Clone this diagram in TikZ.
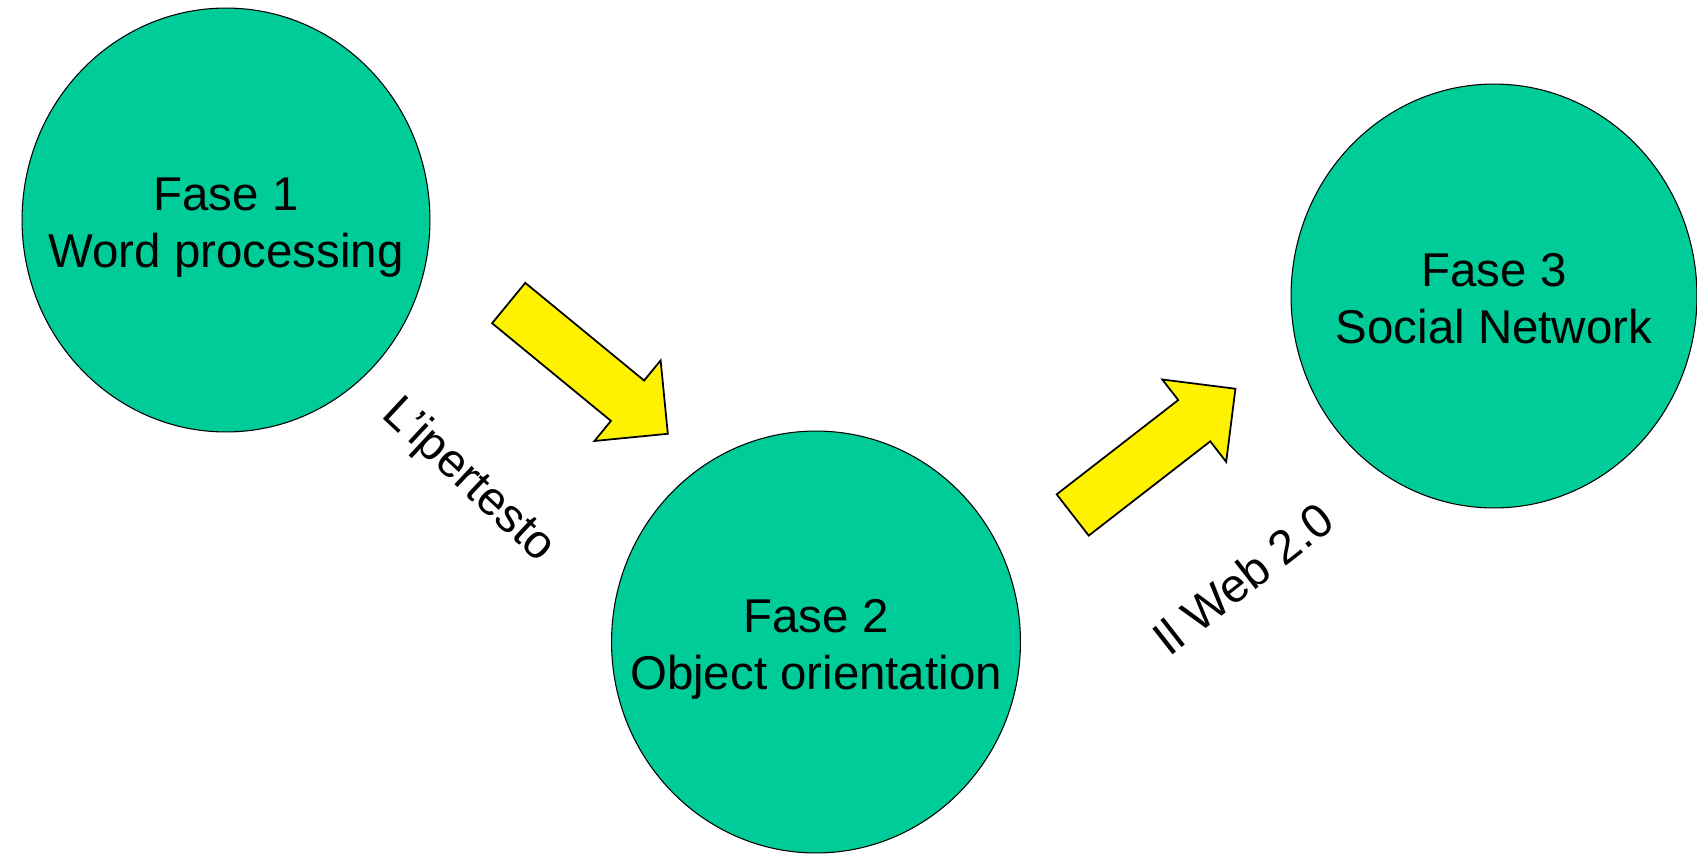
\documentclass[tikz,border=0pt]{standalone}
\usepackage{fontspec}
\setmainfont{Liberation Sans}
\usetikzlibrary{shapes.geometric,shapes.arrows}
\definecolor{phasegreen}{HTML}{00CC99}
\tikzset{
    phase-circle/.style = {draw=black, fill=phasegreen, line width=0.6pt, ellipse, inner sep=0pt},
    phase-text/.style = {align=center, inner sep=0pt, yshift=-6.5pt, font=\fontsize{27}{32.5}\selectfont, execute at begin node=\strut, execute at end node=\strut},
    block-arrow/.style = {draw=black, fill=yellow, line width=1pt, single arrow, inner xsep=0pt, inner ysep=0.505cm, minimum height=4.12cm, minimum width=2.05cm, single arrow head extend=0.52cm, anchor=tail},
    step-label/.style = {font=\fontsize{27}{32.5}\selectfont, anchor=base, inner sep=0pt},
}
\begin{document}
\begin{tikzpicture}[x=0.02cm, y=-0.02cm]
\useasboundingbox (0,0) rectangle (1697,853);
% the three phases
\node [phase-circle, minimum width=8.16cm, minimum height=8.48cm, label={[phase-text]center:Fase 1\\Word processing}] (fase1) at (226,220) {};
\node [phase-circle, minimum width=8.18cm, minimum height=8.44cm, label={[phase-text]center:Fase 2\\Object orientation}] (fase2) at (816,642) {};
\node [phase-circle, minimum width=8.12cm, minimum height=8.48cm, label={[phase-text]center:Fase 3\\Social Network}] (fase3) at (1494,296) {};
% steps between them
\node [block-arrow, rotate=-39.4] (iper) at (508,302.5) {};
\node [block-arrow, rotate=37.8] (web) at (1072,515.5) {};
\node [step-label, rotate=-43] (iper-label) at (460,490) {L’ipertesto};
\node [step-label, rotate=38] (web-label) at (1253,592) {Il Web 2.0};
\end{tikzpicture}
\end{document}
